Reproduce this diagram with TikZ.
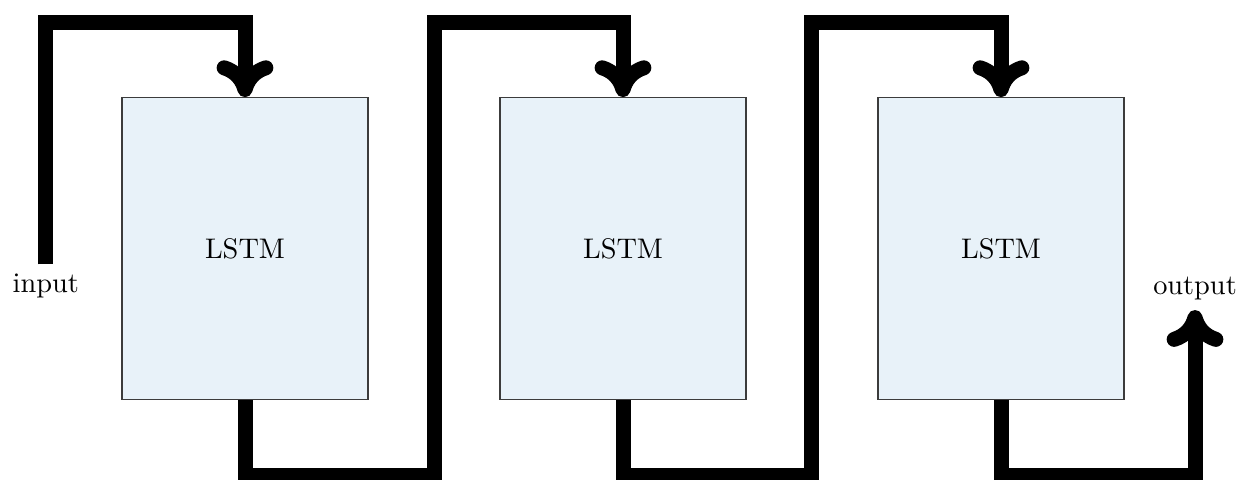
\documentclass[tikz,border=0pt]{standalone}
\usetikzlibrary{arrows.meta}
\definecolor{cellfill}{RGB}{232,242,249}
\definecolor{cellline}{RGB}{60,60,60}
\begin{document}
\begin{tikzpicture}[x=0.3527pt,y=-0.3527pt,
  cell/.style={draw=cellline,fill=cellfill,line width=0.4pt,
    minimum width={246*0.3527pt},minimum height={302*0.3527pt},inner sep=0pt},
  flow/.style={line width={15*0.3527pt},draw=black},
  tipped/.style={flow,-{To[length=13pt,width=20pt]}}]
\useasboundingbox (0,0) rectangle (1239,479);

% the three LSTM cells
\node[cell] (b1) at (245,248.7) {LSTM};
\node[cell] (b2) at (623,248.7) {LSTM};
\node[cell] (b3) at (1001,248.7) {LSTM};

% input and output labels
\node[anchor=north] (in) at (45.8,264.3) {input};
\node[anchor=south] (out) at (1195,310) {output};

% routing levels above and below the cells
\coordinate (top) at (0,22.5);
\coordinate (bot) at (0,475.5);
\coordinate (r1) at (434,22.5);
\coordinate (r2) at (811.7,22.5);

% connectors
\draw[tipped] (in.north) |- (b1.north |- top) -- (b1.north);
\draw[tipped] (b1.south) |- (r1 |- bot) -- (r1) -| (b2.north);
\draw[tipped] (b2.south) |- (r2 |- bot) -- (r2) -| (b3.north);
\draw[tipped] (b3.south) |- (out.south |- bot) -- (out.south);
\end{tikzpicture}
\end{document}
